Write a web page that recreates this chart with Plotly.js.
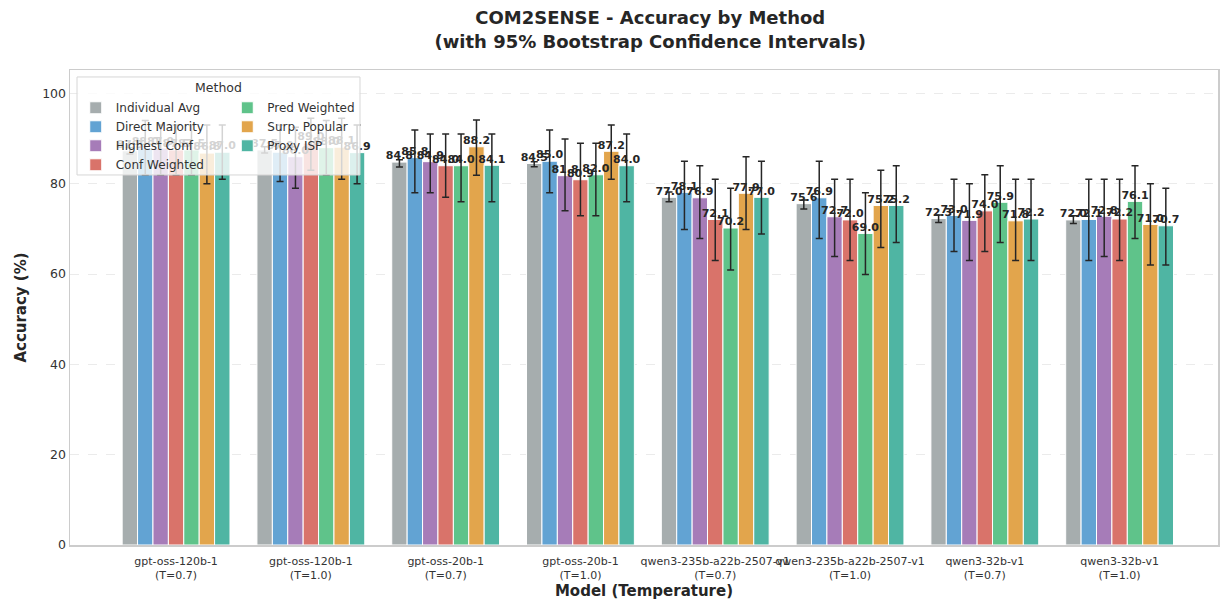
<!DOCTYPE html>
<html>
<head>
<meta charset="utf-8">
<script src="https://cdn.plot.ly/plotly-3.0.1.min.js"></script>
<style>html,body{margin:0;padding:0;background:#fff}#chart{width:1220px;height:603px}</style>
</head>
<body>
<div id="chart"></div>
<script>
const categories = [
  "gpt-oss-120b-1<br>(T=0.7)", "gpt-oss-120b-1<br>(T=1.0)",
  "gpt-oss-20b-1<br>(T=0.7)", "gpt-oss-20b-1<br>(T=1.0)",
  "qwen3-235b-a22b-2507-v1<br>(T=0.7)", "qwen3-235b-a22b-2507-v1<br>(T=1.0)",
  "qwen3-32b-v1<br>(T=0.7)", "qwen3-32b-v1<br>(T=1.0)"
];
const methods = ["Individual Avg", "Direct Majority", "Highest Conf", "Conf Weighted", "Pred Weighted", "Surp. Popular", "Proxy ISP"];

// accuracy values
const individualAvg  = [87.3, 87.5, 84.8, 84.5, 77.0, 75.6, 72.3, 72.0];
const directMajority = [88.0, 87.0, 85.8, 85.0, 78.1, 76.9, 73.0, 72.1];
const highestConf    = [87.9, 86.0, 84.9, 81.8, 76.9, 72.7, 71.9, 72.8];
const confWeighted   = [87.5, 89.0, 84.0, 80.9, 72.1, 72.0, 74.0, 72.2];
const predWeighted   = [87.5, 88.0, 84.0, 82.0, 70.2, 69.0, 75.9, 76.1];
const surpPopular    = [86.8, 88.1, 88.2, 87.2, 77.9, 75.2, 71.8, 71.0];
const proxyISP       = [87.0, 86.9, 84.1, 84.0, 77.0, 75.2, 72.2, 70.7];

// 95% bootstrap CI lower / upper bounds
const individualAvgLo  = [86.6, 86.8, 83.7, 83.8, 76.0, 74.4, 71.4, 71.2];
const individualAvgHi  = [88.0, 88.2, 85.3, 84.9, 78.2, 76.4, 73.1, 72.9];
const directMajorityLo = [82.0, 80.5, 78.0, 78.0, 69.9, 67.9, 65.0, 63.0];
const directMajorityHi = [94.0, 93.0, 91.9, 91.9, 85.0, 85.0, 81.0, 81.0];
const highestConfLo    = [82.0, 79.0, 78.0, 74.0, 67.9, 63.9, 63.0, 63.9];
const highestConfHi    = [93.0, 92.5, 91.0, 89.9, 84.0, 81.0, 80.0, 81.0];
const confWeightedLo   = [82.0, 83.0, 77.0, 72.9, 63.0, 63.0, 65.0, 63.0];
const confWeightedHi   = [93.0, 94.5, 91.0, 89.0, 81.0, 81.0, 82.0, 81.0];
const predWeightedLo   = [82.0, 82.0, 76.0, 72.9, 60.9, 59.9, 67.0, 67.9];
const predWeightedHi   = [93.0, 94.0, 91.0, 89.0, 79.0, 78.0, 84.0, 84.0];
const surpPopularLo    = [80.0, 81.0, 81.9, 81.0, 69.9, 65.9, 63.0, 62.0];
const surpPopularHi    = [93.0, 94.5, 94.1, 93.0, 86.0, 83.0, 81.0, 80.0];
const proxyISPLo       = [81.0, 80.0, 76.0, 76.0, 68.9, 67.0, 63.0, 62.0];
const proxyISPHi       = [93.0, 93.0, 91.0, 91.0, 85.0, 84.0, 81.0, 79.0];

const colors = ["#a6adae", "#62a3d3", "#a67cb8", "#d9736a", "#5fc38a", "#e2a54c", "#4fb5a3"];

const series = [
  [individualAvg, individualAvgLo, individualAvgHi],
  [directMajority, directMajorityLo, directMajorityHi],
  [highestConf, highestConfLo, highestConfHi],
  [confWeighted, confWeightedLo, confWeightedHi],
  [predWeighted, predWeightedLo, predWeightedHi],
  [surpPopular, surpPopularLo, surpPopularHi],
  [proxyISP, proxyISPLo, proxyISPHi]
];

const barTraces = series.map((s, i) => {
  const [v, lo, hi] = s;
  return {
    type: "bar",
    name: methods[i],
    x: categories,
    y: v,
    offsetgroup: String(i),
    legend: i < 4 ? "legend" : "legend2",
    marker: {color: colors[i], line: {color: "#ffffff", width: 1}},
    error_y: {
      type: "data", symmetric: false,
      array: v.map((x, k) => hi[k] - x),
      arrayminus: v.map((x, k) => x - lo[k]),
      color: "#262626", thickness: 1.5, width: 3.5
    },
    hoverinfo: "skip"
  };
});

const textTraces = series.map((s, i) => {
  const v = s[0];
  return {
    type: "scatter",
    mode: "text",
    x: categories,
    y: v,
    offsetgroup: String(i),
    showlegend: false,
    text: v.map(x => x.toFixed(1)),
    textposition: "top center",
    cliponaxis: false,
    textfont: {family: "DejaVu Sans", size: 11, color: "#262626", weight: "bold"},
    hoverinfo: "skip"
  };
});

const layout = {
  width: 1220, height: 603,
  paper_bgcolor: "#ffffff", plot_bgcolor: "#ffffff",
  margin: {l: 70, r: 2, t: 70, b: 58},
  font: {family: "DejaVu Sans", color: "#333333"},
  barmode: "group", bargap: 0.2, bargroupgap: 0,
  scattermode: "group", scattergap: 0.2,
  title: {
    text: "<b>COM2SENSE - Accuracy by Method</b><br><b>(with 95% Bootstrap Confidence Intervals)</b>",
    x: 0.533, xanchor: "center", y: 0.960, yanchor: "top",
    font: {family: "DejaVu Sans", size: 18, color: "#262626"}
  },
  xaxis: {
    type: "category",
    range: [-0.787, 7.73],
    showgrid: false, zeroline: false,
    showline: true, linecolor: "#cccccc", linewidth: 1.5, mirror: true,
    ticks: "", tickangle: 0, ticklabelstandoff: 5, tickfont: {size: 11, color: "#333333"},
    title: {text: "<b>Model (Temperature)</b>", font: {size: 15, color: "#262626"}, standoff: 3}
  },
  yaxis: {
    range: [0, 105.2],
    tickvals: [0, 20, 40, 60, 80, 100],
    showgrid: true, gridcolor: "#ebebeb", griddash: "dash", gridwidth: 1,
    zeroline: false,
    showline: true, linecolor: "#cccccc", linewidth: 1.5, mirror: true,
    ticks: "", tickfont: {size: 12.5, color: "#333333"},
    title: {text: "<b>Accuracy (%)</b>", font: {size: 15, color: "#262626"}, standoff: 12}
  },
  legend: {
    x: 0.005, y: 0.951, xanchor: "left", yanchor: "top",
    orientation: "v", bgcolor: "rgba(0,0,0,0)", borderwidth: 0,
    font: {size: 12, color: "#333333"}, traceorder: "normal", tracegroupgap: 0
  },
  legend2: {
    x: 0.137, y: 0.951, xanchor: "left", yanchor: "top",
    orientation: "v", bgcolor: "rgba(0,0,0,0)", borderwidth: 0,
    font: {size: 12, color: "#333333"}, traceorder: "normal", tracegroupgap: 0
  },
  shapes: [{
    type: "rect", xref: "paper", yref: "paper",
    x0: 0.0061, x1: 0.2526, y0: 0.779, y1: 0.9853,
    fillcolor: "rgba(255,255,255,0.8)", line: {color: "#d6d6d6", width: 1},
    layer: "above"
  }],
  annotations: [{
    text: "Method", xref: "paper", yref: "paper", x: 0.129, y: 0.964,
    xanchor: "center", yanchor: "middle", showarrow: false,
    font: {size: 12.5, color: "#333333"}
  }]
};

Plotly.newPlot("chart", barTraces.concat(textTraces), layout, {displayModeBar: false, staticPlot: true});
</script>
</body>
</html>
